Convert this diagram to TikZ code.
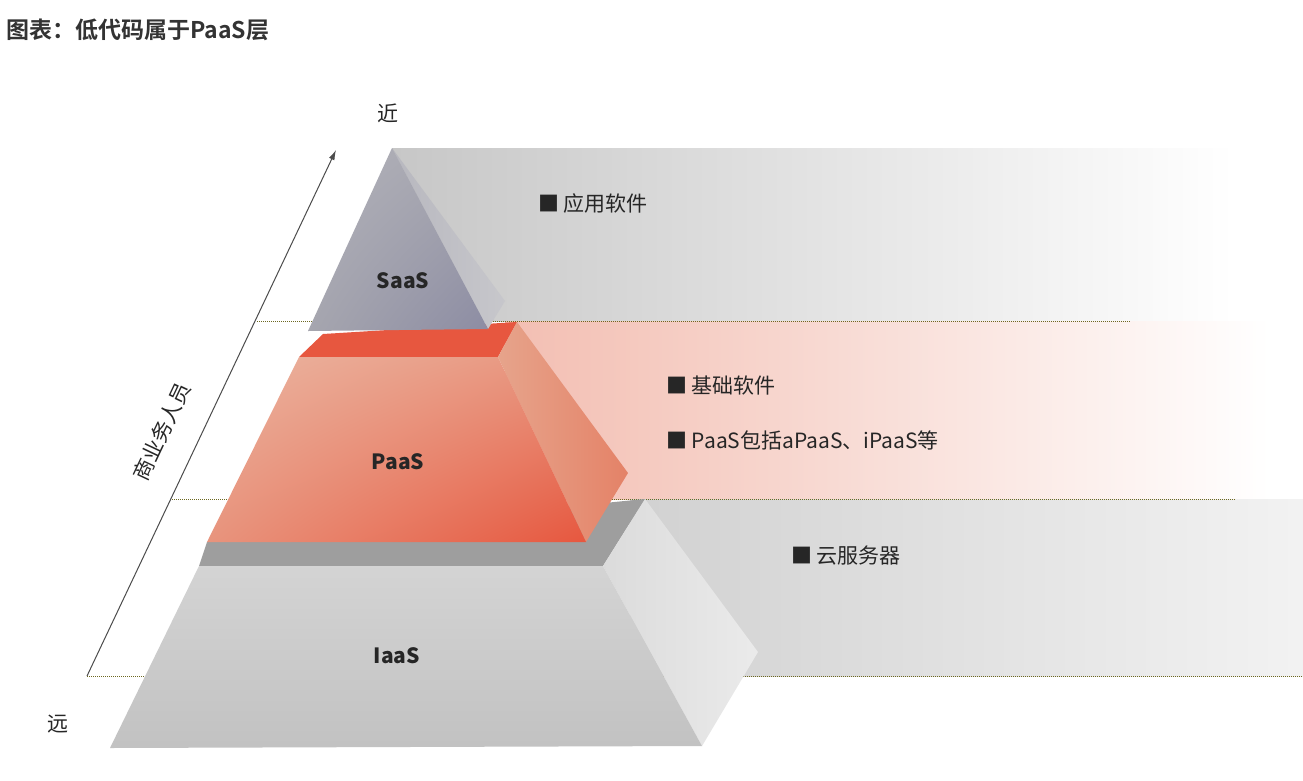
\documentclass[tikz,border=0pt]{standalone}
\usepackage{fontspec}
\usetikzlibrary{arrows.meta,shadings}
\setmainfont{Noto Sans CJK SC}
\newfontfamily\cjkb{Noto Sans CJK SC Bold}
\begin{document}
\begin{tikzpicture}[x=1pt,y=-1pt,
  lbl/.style={font=\fontsize{21}{24}\selectfont\bfseries, text=black!85, inner sep=0},
  txt/.style={font=\fontsize{21}{24}\selectfont, text=black!85, anchor=west, inner sep=0},
  dotl/.style={draw=olive!70!black, densely dotted, line width=1pt}]
\useasboundingbox (0,0) rectangle (1303,780);
\fill[white] (0,0) rectangle (1303,780);
% title
\node[anchor=west, inner sep=0, font=\fontsize{23}{26}\selectfont\cjkb, text=black!80] (title) at (6,30) {图表：低代码属于PaaS层};
% bands
\shade[left color=black!22, right color=white] (392,148) rectangle (1235,321);
\shade[left color=red!45!brown!35!white, right color=white] (505,321) rectangle (1270,499);
\shade[left color=black!18, right color=black!5] (630,499) rectangle (1303,676);
% dotted lines
\draw[dotl] (257,321) -- (1130,321);
\draw[dotl] (172,499) -- (1235,499);
\draw[dotl] (87,676) -- (1303,676);
% arrow
\coordinate (a0) at (87,676); \coordinate (a1) at (336,150);
\draw[black!70, line width=1pt, -{Latex[length=10pt,width=6pt]}] (a0) -- (a1);
\node[rotate=64.7, font=\fontsize{21}{24}\selectfont, text=black!85] (role) at (162,432) {商业务人员};
\node[font=\fontsize{21}{24}\selectfont, text=black!85] (near) at (388,113) {近};
\node[font=\fontsize{21}{24}\selectfont, text=black!85] (far) at (58,724) {远};
% IaaS
\fill[black!38] (199,566) -- (207,542) -- (645,499) -- (603,566) -- cycle;
\shade[left color=black!14, right color=black!8] (603,566) -- (645,499) -- (758,652) -- (702,746) -- cycle;
\shade[top color=black!17, bottom color=black!24] (199,566) -- (603,566) -- (702,746) -- (110,748) -- cycle;
\node[lbl] (iaas) at (397,656) {IaaS};
% PaaS
\fill[red!55!brown!85!white] (299,357) -- (323,334) -- (517,322) -- (498,357) -- cycle;
\shade[left color=red!30!brown!55!white, right color=red!40!brown!70!white] (498,357) -- (517,322) -- (628,473) -- (586,542) -- cycle;
\shade[upper left=red!30!brown!45!white, upper right=red!40!brown!60!white, lower left=red!40!brown!60!white, lower right=red!55!brown!85!white] (299,357) -- (498,357) -- (586,542) -- (207,542) -- cycle;
\node[lbl] (paas) at (398,462) {PaaS};
% SaaS
\shade[left color=blue!10!black!28, right color=blue!8!black!22] (392,148) -- (505,301) -- (488,329) -- cycle;
\shade[upper left=blue!10!black!30, lower right=blue!20!black!45, upper right=blue!10!black!35, lower left=blue!10!black!35] (392,148) -- (488,329) -- (308,331) -- cycle;
\node[lbl] (saas) at (403,281) {SaaS};
% texts
\node[txt] (t1) at (538,204) {■\ 应用软件};
\node[txt] (t2) at (666,386) {■\ 基础软件};
\node[txt] (t3) at (666,440) {■\ PaaS包括aPaaS、iPaaS等};
\node[txt] (t4) at (791,556) {■\ 云服务器};
\end{tikzpicture}
\end{document}
